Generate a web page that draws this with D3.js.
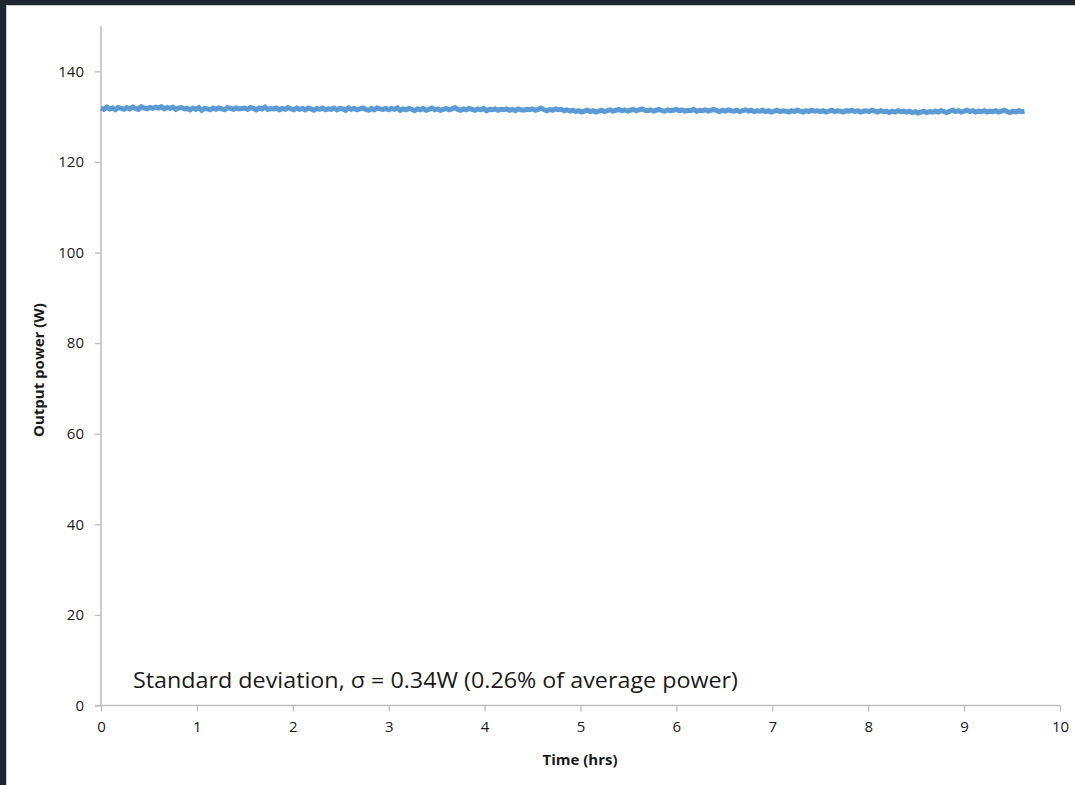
<!DOCTYPE html>
<html>
<head>
<meta charset="utf-8">
<script src="https://cdn.jsdelivr.net/npm/d3@7"></script>
<style>
  html, body { margin: 0; padding: 0; background: #1f2630; }
  svg { display: block; }
</style>
</head>
<body>
<svg id="chart" width="1075" height="785"></svg>
<script>
// Logged output power, one reading every 0.03 h
const sampleIntervalHrs = 0.03;
const powerW = [
  131.9,131.6,132.1,131.7,131.9,131.5,132.0,131.8,131.6,132.0,
  131.7,132.1,131.8,131.6,132.2,131.9,131.7,132.0,131.8,132.1,
  131.9,132.2,131.7,132.0,131.8,132.1,131.6,131.9,132.0,131.7,
  131.8,131.5,131.9,131.6,132.0,131.4,131.8,131.7,131.5,131.9,
  131.6,131.9,131.7,131.5,132.0,131.8,131.6,131.9,131.7,131.8,
  131.9,131.6,132.0,131.8,131.5,131.9,131.7,132.1,131.6,131.8,
  131.7,131.9,131.5,131.8,131.6,132.0,131.7,131.5,131.9,131.6,
  131.8,131.5,131.9,131.7,131.4,131.8,131.6,131.9,131.5,131.7,
  131.6,131.9,131.5,131.8,131.7,131.4,131.9,131.6,131.8,131.5,
  131.7,131.9,131.6,131.4,131.8,131.5,131.9,131.7,131.6,131.8,
  131.5,131.8,131.6,131.9,131.4,131.7,131.5,131.8,131.6,131.3,
  131.7,131.5,131.8,131.4,131.6,131.9,131.5,131.7,131.4,131.6,
  131.8,131.5,131.7,132.0,131.6,131.4,131.7,131.5,131.8,131.6,
  131.4,131.7,131.5,131.8,131.3,131.6,131.5,131.7,131.4,131.6,
  131.5,131.7,131.4,131.6,131.3,131.7,131.5,131.4,131.6,131.5,
  131.7,131.4,131.6,131.9,131.5,131.3,131.6,131.4,131.7,131.5,
  131.6,131.3,131.5,131.2,131.4,131.1,131.3,131.0,131.2,131.4,
  131.1,131.3,131.0,131.2,131.4,131.1,131.3,131.5,131.2,131.4,
  131.6,131.3,131.5,131.2,131.4,131.6,131.3,131.5,131.7,131.4,
  131.3,131.5,131.2,131.4,131.6,131.3,131.2,131.5,131.3,131.4,
  131.6,131.3,131.5,131.2,131.4,131.3,131.6,131.2,131.4,131.3,
  131.5,131.2,131.4,131.6,131.3,131.1,131.4,131.2,131.5,131.3,
  131.2,131.4,131.1,131.3,131.5,131.2,131.4,131.1,131.3,131.2,
  131.4,131.1,131.3,131.0,131.2,131.4,131.1,131.3,131.2,131.0,
  131.3,131.1,131.4,131.2,131.0,131.3,131.1,131.4,131.2,131.3,
  131.1,131.3,131.0,131.2,131.4,131.1,131.3,131.2,131.0,131.3,
  131.2,131.4,131.1,131.3,131.0,131.2,131.3,131.1,131.4,131.2,
  131.0,131.3,131.1,131.2,130.9,131.2,131.0,131.3,131.1,131.2,
  131.0,131.2,130.9,131.1,130.8,131.0,131.2,130.9,131.1,131.0,
  131.2,131.0,131.3,131.1,130.9,131.2,131.4,131.1,131.3,131.0,
  131.2,131.4,131.1,131.3,131.0,131.2,131.1,131.3,131.0,131.2,
  131.1,131.3,131.0,131.2,131.4,131.1,130.9,131.2,131.0,131.3,
  131.1,131.2
];
const xTicks = [0,1,2,3,4,5,6,7,8,9,10];
const yTicks = [0,20,40,60,80,100,120,140];
const xTitle = "Time (hrs)";
const yTitle = "Output power (W)";
const note = "Standard deviation, \u03c3 = 0.34W (0.26% of average power)";

const series = powerW.map((p, i) => ({ t: i * sampleIntervalHrs, p }));

const svg = d3.select("#chart");
const font = "'Open Sans', Lato, 'Liberation Sans', sans-serif";
const axisColor = "#bfbfbf";

// chart panel
svg.append("rect")
  .attr("x", 6.5).attr("y", 5.5)
  .attr("width", 1075).attr("height", 785)
  .attr("fill", "#ffffff")
  .attr("stroke", "#c9c9c9").attr("stroke-width", 1);

const x = d3.scaleLinear().domain([0, 10]).range([101, 1060]);
const y = d3.scaleLinear().domain([0, 150]).range([705.5, 26]);

// y axis
const yAxis = svg.append("g")
  .attr("transform", `translate(${x(0)},0)`)
  .call(d3.axisLeft(y).tickValues(yTicks).tickSize(6).tickPadding(11).tickFormat(d3.format("d")));
yAxis.select(".domain").attr("d", `M0,${y(150)}V${y(0)}`);

// x axis
const xAxis = svg.append("g")
  .attr("transform", `translate(0,${y(0)})`)
  .call(d3.axisBottom(x).tickValues(xTicks).tickSize(6).tickPadding(10).tickFormat(d3.format("d")));
xAxis.select(".domain").attr("d", `M${x(0) - 6},0H${x(10)}`);

[yAxis, xAxis].forEach(g => {
  g.attr("font-family", font).attr("font-size", 15);
  g.selectAll(".domain").attr("stroke", axisColor).attr("stroke-width", 1.6);
  g.selectAll(".tick line").attr("stroke", axisColor).attr("stroke-width", 1.3);
  g.selectAll(".tick text").attr("fill", "#1a1a1a");
});

// power trace
svg.append("path")
  .datum(series)
  .attr("fill", "none")
  .attr("stroke", "#5b9bd5")
  .attr("stroke-width", 5)
  .attr("stroke-linejoin", "miter")
  .attr("d", d3.line().x(d => x(d.t)).y(d => y(d.p)));

// titles
svg.append("text")
  .attr("x", 580).attr("y", 765)
  .attr("text-anchor", "middle")
  .attr("font-family", font).attr("font-size", 15).attr("font-weight", "bold")
  .attr("fill", "#1a1a1a")
  .text(xTitle);

svg.append("text")
  .attr("transform", "translate(44,370) rotate(-90)")
  .attr("text-anchor", "middle")
  .attr("font-family", font).attr("font-size", 15).attr("font-weight", "bold")
  .attr("fill", "#1a1a1a")
  .text(yTitle);

// annotation
svg.append("text")
  .attr("x", 133).attr("y", 688)
  .attr("font-family", font).attr("font-size", 21)
  .attr("fill", "#1a1a1a")
  .attr("textLength", 605).attr("lengthAdjust", "spacingAndGlyphs")
  .text(note);
</script>
</body>
</html>
